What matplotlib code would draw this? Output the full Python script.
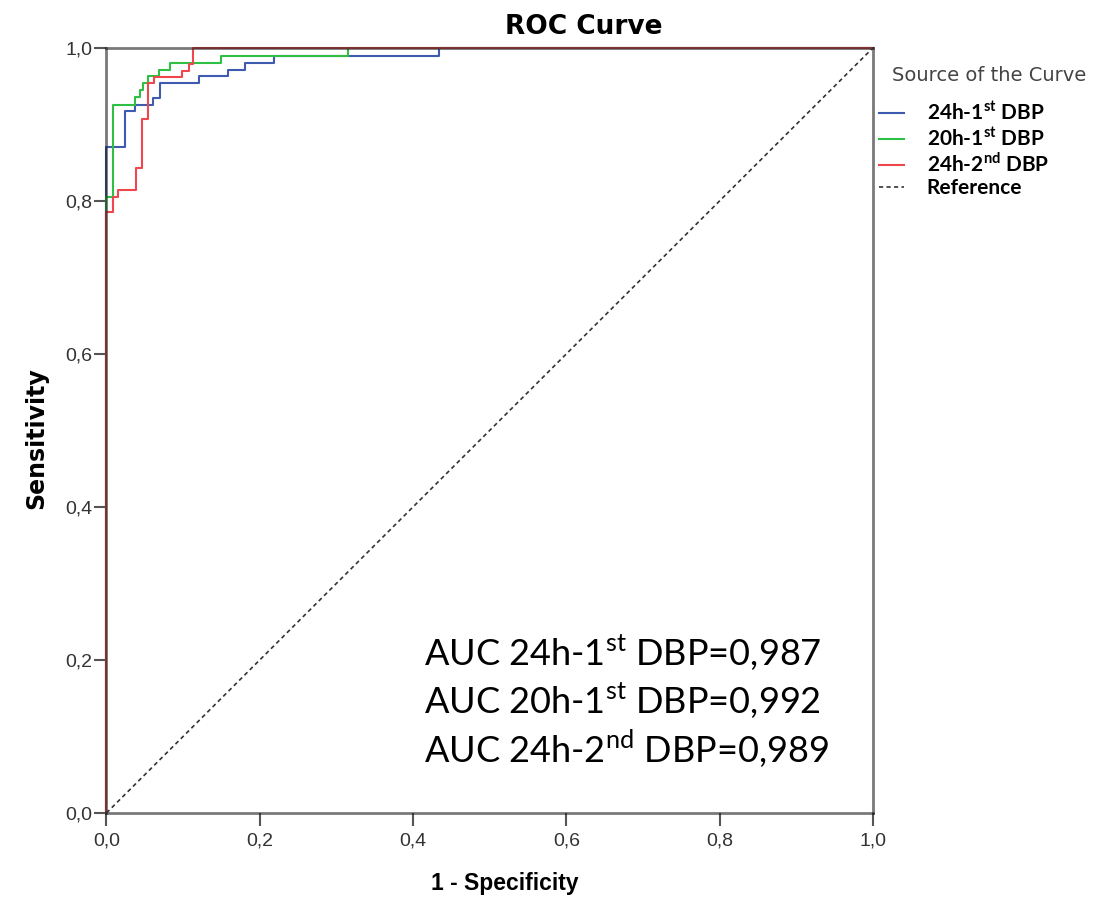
import matplotlib
matplotlib.use("Agg")
import matplotlib.pyplot as plt
from matplotlib.lines import Line2D

# ROC-Kurven (Stufenpunkte: 1 - Spezifitaet, Sensitivitaet)
fpr_24h_1 = [0, 0, 0.024, 0.037, 0.061, 0.070, 0.121, 0.158, 0.181, 0.218, 0.434, 1.0]
tpr_24h_1 = [0, 0.871, 0.917, 0.925, 0.934, 0.954, 0.963, 0.971, 0.981, 0.990, 1.0, 1.0]

fpr_20h_1 = [0, 0, 0.009, 0.037, 0.044, 0.048, 0.054, 0.069, 0.083, 0.150, 0.315, 1.0]
tpr_20h_1 = [0, 0.805, 0.925, 0.936, 0.945, 0.954, 0.963, 0.971, 0.981, 0.990, 1.0, 1.0]

fpr_24h_2 = [0, 0, 0.009, 0.015, 0.039, 0.047, 0.054, 0.062, 0.099, 0.108, 0.113, 1.0]
tpr_24h_2 = [0, 0.786, 0.805, 0.814, 0.843, 0.907, 0.954, 0.962, 0.970, 0.979, 1.0, 1.0]

auc_werte = ["0,987", "0,992", "0,989"]
namen = ["24h-1$^{\\mathregular{st}}$ DBP", "20h-1$^{\\mathregular{st}}$ DBP",
         "24h-2$^{\\mathregular{nd}}$ DBP"]
farben = ["#3f5bb0", "#2fbf45", "#f0474f"]
ticks = [0.0, 0.2, 0.4, 0.6, 0.8, 1.0]

plt.rcParams["font.family"] = ["Liberation Sans", "DejaVu Sans"]
plt.rcParams["mathtext.fontset"] = "custom"
plt.rcParams["mathtext.rm"] = "Lato"

fig = plt.figure(figsize=(11.09, 8.99), dpi=100)
ax = fig.add_axes([0.096, 0.0957, 0.691, 0.8509])

kurven = [(fpr_24h_1, tpr_24h_1), (fpr_20h_1, tpr_20h_1), (fpr_24h_2, tpr_24h_2)]
for (x, y), farbe in zip(kurven, farben):
    ax.plot(x, y, drawstyle="steps-post", color=farbe, lw=1.5, clip_on=False, zorder=3)

ax.plot([0, 1], [0, 1], color="#333333", lw=1.2, ls=(0, (2.5, 2)), zorder=2)

ax.set_xlim(0, 1)
ax.set_ylim(0, 1)
ax.set_xticks(ticks)
ax.set_yticks(ticks)
ax.set_xticklabels([f"{t:.1f}".replace(".", ",") for t in ticks])
ax.set_yticklabels([f"{t:.1f}".replace(".", ",") for t in ticks])
ax.tick_params(direction="out", length=9, width=1.5, color="#555555",
               labelsize=14, labelcolor="#333333", pad=1)
ax.tick_params(axis="x", pad=5)
for s in ax.spines.values():
    s.set_color("#202020")
    s.set_alpha(0.6)
    s.set_linewidth(2)
    s.set_zorder(5)

ax.set_xlabel("1 - Specificity", fontsize=16.5, fontweight="bold")
ax.xaxis.set_label_coords(0.52, -0.077)
ax.set_ylabel("Sensitivity", fontsize=17, fontweight="bold", family="DejaVu Sans")
ax.yaxis.set_label_coords(-0.076, 0.49)
fig.text(0.526, 0.970, "ROC Curve", ha="center", va="center", fontsize=19,
         fontweight="bold", family="DejaVu Sans")

# AUC-Text
for i, (n, a) in enumerate(zip(namen, auc_werte)):
    ax.text(0.415, 0.21 - i * 0.063, f"AUC {n}={a}", fontsize=26,
            family="Lato", va="center", ha="left")

# Legende
handles = [Line2D([], [], color=f, lw=1.5) for f in farben]
handles.append(Line2D([], [], color="#333333", lw=1.2, ls=(0, (2.5, 2))))
labels = namen + ["Reference"]
fig.text(0.804, 0.916, "Source of the Curve", fontsize=14, color="#444444",
         va="center", ha="left", family="DejaVu Sans")
leg = ax.legend(handles, labels, loc="upper left", bbox_to_anchor=(1.008, 0.93),
                frameon=False, handlelength=1.2, handletextpad=1.1,
                labelspacing=0.12, borderaxespad=0, borderpad=0,
                prop={"family": "Lato", "weight": "bold", "size": 15})

fig.savefig("out.png", dpi=100)
